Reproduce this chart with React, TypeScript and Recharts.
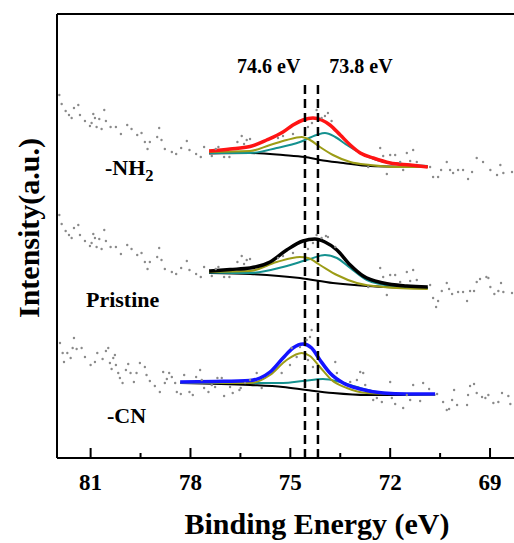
import {
  ComposedChart,
  Line,
  Scatter,
  XAxis,
  YAxis,
  ReferenceLine,
  ReferenceDot,
} from 'recharts'

type Pt = [number, number]

// binding energy (eV), intensity (a.u., stacked)
const nh2Raw: Pt[] = [
  [81.94, 363], [81.87, 354], [81.75, 347], [81.65, 343], [81.57, 340], [81.5, 350], [81.37, 353], [81.32, 343],
  [81.17, 337], [81.02, 332], [80.97, 335], [80.92, 344], [80.87, 340], [80.82, 331], [80.74, 339], [80.67, 329],
  [80.59, 348], [80.54, 337], [80.4, 331], [80.24, 331], [80.09, 324], [79.9, 333], [79.77, 329], [79.6, 323],
  [79.47, 325], [79.37, 316], [79.29, 309], [79.22, 316], [79.0, 321], [78.94, 330], [78.87, 318], [78.77, 309],
  [78.56, 306], [78.43, 304], [78.28, 310], [78.11, 317], [78.03, 308], [77.83, 304], [77.69, 301], [77.59, 311],
  [77.36, 302], [77.24, 309], [77.16, 311], [76.99, 301], [76.83, 301], [76.59, 316], [76.46, 322], [76.39, 314],
  [76.31, 318], [76.21, 319], [75.37, 320], [75.22, 322], [74.92, 324], [74.47, 331], [74.35, 335], [74.21, 348],
  [74.06, 340], [73.96, 342], [73.87, 345], [73.76, 337], [72.66, 291], [72.3, 310], [72.21, 302], [72.1, 284],
  [72.0, 303], [71.85, 303], [71.7, 296], [71.61, 288], [71.5, 305], [71.4, 297], [71.31, 308], [71.2, 296],
  [70.8, 291], [70.71, 281], [70.56, 281], [70.47, 288], [70.3, 296], [70.2, 288], [70.11, 285], [69.96, 288],
  [69.81, 288], [69.66, 279], [69.54, 286], [69.4, 300], [69.21, 296], [68.99, 288], [68.79, 283], [68.69, 293],
  [68.6, 285], [68.34, 286],
]

const pristineRaw: Pt[] = [
  [81.94, 243], [81.87, 234], [81.75, 227], [81.65, 223], [81.57, 220], [81.5, 230], [81.37, 233], [81.32, 223],
  [81.17, 217], [81.02, 212], [80.97, 215], [80.92, 224], [80.87, 220], [80.82, 211], [80.74, 219], [80.67, 209],
  [80.59, 228], [80.54, 217], [80.4, 211], [80.24, 211], [80.09, 204], [79.9, 213], [79.77, 209], [79.6, 203],
  [79.47, 205], [79.37, 196], [79.29, 189], [79.22, 196], [79.0, 201], [78.94, 210], [78.87, 198], [78.77, 189],
  [78.56, 186], [78.43, 184], [78.28, 190], [78.11, 197], [78.03, 188], [77.83, 184], [77.69, 181], [77.59, 191],
  [77.36, 182], [77.24, 189], [77.16, 191], [76.99, 181], [76.83, 181], [76.59, 196], [76.46, 202], [76.39, 194],
  [76.31, 198], [76.21, 199], [75.37, 200], [75.22, 202], [74.92, 205], [74.47, 209], [74.32, 215], [74.21, 223],
  [74.06, 220], [73.93, 222], [73.87, 221], [73.65, 211], [72.66, 171], [72.3, 190], [72.21, 181], [72.1, 163],
  [72.0, 183], [71.85, 183], [71.7, 176], [71.5, 186], [71.4, 177], [71.31, 188], [71.2, 178], [70.8, 173],
  [70.71, 160], [70.62, 151], [70.56, 157], [70.45, 167], [70.3, 175], [70.23, 169], [70.14, 164], [69.96, 166],
  [69.81, 166], [69.69, 157], [69.6, 167], [69.48, 167], [69.4, 176], [69.3, 179], [69.11, 181], [69.05, 180],
  [68.99, 171], [68.87, 164], [68.75, 167], [68.67, 175], [68.6, 166], [68.34, 165],
]

const cnRaw: Pt[] = [
  [81.92, 115], [81.84, 105], [81.8, 96], [81.7, 105], [81.6, 100], [81.54, 110], [81.5, 120], [81.42, 109],
  [81.27, 110], [81.17, 101], [81.0, 93], [80.87, 96], [80.8, 105], [80.64, 99], [80.54, 107], [80.47, 110],
  [80.42, 95], [80.37, 89], [80.32, 100], [80.27, 103], [80.24, 93], [80.17, 85], [80.12, 80], [80.04, 75],
  [79.94, 88], [79.87, 94], [79.8, 85], [79.7, 76], [79.62, 85], [79.52, 95], [79.37, 91], [79.32, 83],
  [79.22, 77], [79.07, 72], [78.92, 66], [78.82, 86], [78.77, 75], [78.71, 79], [78.64, 85], [78.56, 81],
  [78.46, 75], [78.41, 66], [78.29, 64], [78.19, 83], [78.03, 66], [77.93, 63], [77.83, 81], [77.71, 88],
  [77.66, 78], [77.59, 70], [77.46, 66], [77.36, 73], [77.26, 71], [77.19, 80], [77.06, 80], [76.99, 62],
  [76.81, 71], [76.73, 65], [76.53, 68], [76.49, 70], [76.36, 75], [76.21, 78], [76.01, 85], [75.86, 70],
  [75.26, 85], [75.01, 93], [74.96, 110], [74.81, 101], [74.71, 111], [74.51, 118], [74.41, 121], [74.36, 128],
  [74.47, 98], [74.32, 91], [73.65, 96], [73.6, 85], [73.2, 76], [73.0, 78], [72.9, 86], [72.81, 85],
  [72.75, 73], [72.51, 58], [72.4, 60], [72.25, 56], [72.0, 76], [71.95, 60], [71.85, 54], [71.61, 50],
  [71.5, 63], [71.4, 58], [71.31, 73], [71.1, 57], [71.01, 75], [70.83, 69], [70.59, 64], [70.41, 56],
  [70.3, 48], [70.23, 49], [70.14, 58], [70.08, 68], [69.99, 53], [69.69, 53], [69.66, 63], [69.6, 72],
  [69.48, 74], [69.4, 65], [69.24, 61], [69.14, 60], [69.05, 63], [68.9, 55], [68.75, 56], [68.64, 65],
  [68.45, 62], [68.39, 54],
]

// fitted curves: envelope, 74.6 eV component, 73.8 eV component, background
const nh2Envelope: Pt[] = [
  [77.44, 307], [76.81, 309], [76.21, 311.5], [75.71, 318], [75.22, 326], [74.92, 333], [74.62, 338], [74.32, 340],
  [74.06, 338], [73.81, 333], [73.5, 323], [73.2, 313], [72.9, 305], [72.51, 300], [72.0, 295], [71.4, 293], [70.87, 291],
]
const nh2Peak1: Pt[] = [
  [77.44, 306], [76.21, 307], [75.61, 313], [75.11, 318], [74.66, 321], [74.41, 318], [74.11, 311], [73.72, 303],
  [73.2, 296], [72.6, 293], [71.8, 291], [70.87, 291],
]
const nh2Peak2: Pt[] = [
  [77.44, 305], [76.21, 305], [75.41, 310], [74.71, 316], [74.21, 323], [73.96, 325], [73.65, 321], [73.3, 313],
  [72.9, 305], [72.4, 298], [71.7, 294], [70.87, 292],
]
const nh2Base: Pt[] = [
  [77.44, 304.5], [76.21, 305], [75.22, 303], [74.56, 301], [74.11, 298], [73.41, 295], [72.6, 292], [70.87, 291],
]

const pristineEnvelope: Pt[] = [
  [77.44, 187], [76.81, 188.5], [76.21, 190], [75.61, 196], [75.11, 208], [74.62, 217], [74.26, 219], [73.96, 216],
  [73.6, 208], [73.2, 193], [72.81, 182], [72.21, 175], [71.5, 172], [70.87, 171],
]
const pristinePeak1: Pt[] = [
  [77.44, 186], [76.21, 187], [75.41, 196], [74.71, 201], [74.47, 200], [74.11, 193], [73.6, 183], [73.0, 175],
  [72.21, 171], [70.87, 169],
]
const pristinePeak2: Pt[] = [
  [77.44, 185.5], [76.21, 185], [75.22, 191], [74.41, 199], [73.96, 203], [73.6, 200], [73.2, 190], [72.7, 178],
  [71.91, 172], [70.87, 170],
]
const pristineBase: Pt[] = [
  [77.44, 185], [76.21, 184], [74.71, 180], [73.72, 175], [72.7, 172], [70.87, 170],
]

const cnEnvelope: Pt[] = [
  [78.31, 76], [77.26, 76.5], [76.21, 77.5], [75.91, 80], [75.61, 86], [75.22, 100], [74.92, 110], [74.62, 114],
  [74.36, 110], [74.11, 98], [73.81, 85], [73.41, 75], [72.9, 69], [72.21, 65], [71.5, 64], [70.65, 64],
]
const cnPeak1: Pt[] = [
  [78.31, 75.5], [76.21, 75], [75.61, 83], [75.11, 98], [74.66, 105], [74.41, 102], [74.11, 91], [73.76, 78],
  [73.3, 70], [72.7, 65], [71.7, 64], [70.65, 63],
]
const cnPeak2: Pt[] = [
  [78.31, 75], [76.21, 75], [75.22, 75], [74.62, 77], [74.02, 79], [73.5, 76], [73.0, 71], [72.4, 66], [71.7, 64], [70.65, 63],
]
const cnBase: Pt[] = [
  [78.31, 75], [76.21, 73], [75.22, 71], [74.51, 68], [73.72, 65], [72.7, 63], [70.65, 63],
]

const energyTicks = [81, 79.5, 78, 76.5, 75, 73.5, 72, 70.5, 69]
const peakLines = [74.56, 74.17]

const FONT = '"Liberation Serif", "Times New Roman", serif'
const OLIVE = '#9c9c16'
const TEAL = '#14918f'
const DOT = '#8a8a8a'

const rows = (pts: Pt[]) => pts.map(([x, y]) => ({ x, y }))

const samples = [
  { key: 'nh2', raw: nh2Raw, env: nh2Envelope, p1: nh2Peak1, p2: nh2Peak2, base: nh2Base, color: '#ff1414' },
  { key: 'pristine', raw: pristineRaw, env: pristineEnvelope, p1: pristinePeak1, p2: pristinePeak2, base: pristineBase, color: '#000000' },
  { key: 'cn', raw: cnRaw, env: cnEnvelope, p1: cnPeak1, p2: cnPeak2, base: cnBase, color: '#1414ff' },
]

const EnergyTick = (props: any) => {
  const { x, y, payload } = props
  const major = Number.isInteger(payload.value)
  return (
    <g>
      <line x1={x} x2={x} y1={y} y2={y - (major ? 10 : 5)} stroke="#000" strokeWidth={2} />
      {major && (
        <text x={x} y={y + 32} textAnchor="middle" fontFamily={FONT} fontWeight="bold" fontSize={23} fill="#000">
          {payload.value}
        </text>
      )}
    </g>
  )
}

const XTitle = () => (
  <text x={317} y={534} textAnchor="middle" fontFamily={FONT} fontWeight="bold" fontSize={30} fill="#000">
    Binding Energy (eV)
  </text>
)

const YTitle = () => (
  <text
    x={28}
    y={228}
    transform="rotate(-90, 28, 228)"
    textAnchor="middle"
    dominantBaseline="central"
    fontFamily={FONT}
    fontWeight="bold"
    fontSize={30}
    fill="#000"
  >
    Intensity(a.u.)
  </text>
)

const tagShape = (text: string, size: number, sub?: string) => (p: any) => (
  <text x={p.cx} y={p.cy} fontFamily={FONT} fontWeight="bold" fontSize={size} fill="#000">
    {text}
    {sub && (
      <tspan fontSize={size * 0.75} dy={6}>
        {sub}
      </tspan>
    )}
  </text>
)

const dotShape = (p: any) => <circle cx={p.cx} cy={p.cy} r={1.2} fill={DOT} />

export default function App() {
  return (
    <div style={{ position: 'absolute', left: 0, top: 0, background: '#fff' }}>
      <ComposedChart width={514} height={543} margin={{ top: 13, right: 0, bottom: 0, left: 56 }}>
        <XAxis
          type="number"
          dataKey="x"
          domain={[68.28, 82.01]}
          reversed
          allowDataOverflow
          ticks={energyTicks}
          interval={0}
          height={85}
          tickSize={0}
          tickMargin={0}
          tickLine={false}
          tick={<EnergyTick />}
          axisLine={{ stroke: '#000', strokeWidth: 2 }}
          label={<XTitle />}
        />
        <XAxis
          xAxisId="top"
          orientation="top"
          type="number"
          dataKey="x"
          domain={[68.28, 82.01]}
          reversed
          allowDataOverflow
          height={1}
          tick={false}
          tickLine={false}
          axisLine={{ stroke: '#000', strokeWidth: 2 }}
        />
        <YAxis
          type="number"
          dataKey="y"
          domain={[0, 444]}
          allowDataOverflow
          width={1}
          tick={false}
          tickLine={false}
          axisLine={{ stroke: '#000', strokeWidth: 2 }}
          label={<YTitle />}
        />

        {samples.map((s) => (
          <Scatter
            key={`${s.key}-raw`}
            data={rows(s.raw)}
            shape={dotShape}
            isAnimationActive={false}
          />
        ))}

        {samples.map((s) => [
          <Line key={`${s.key}-base`} data={rows(s.base)} dataKey="y" type="monotone" stroke="#000" strokeWidth={2} dot={false} isAnimationActive={false} />,
          <Line key={`${s.key}-p2`} data={rows(s.p2)} dataKey="y" type="monotone" stroke={TEAL} strokeWidth={2} dot={false} isAnimationActive={false} />,
          <Line key={`${s.key}-p1`} data={rows(s.p1)} dataKey="y" type="monotone" stroke={OLIVE} strokeWidth={2} dot={false} isAnimationActive={false} />,
          <Line key={`${s.key}-env`} data={rows(s.env)} dataKey="y" type="monotone" stroke={s.color} strokeWidth={3.5} dot={false} isAnimationActive={false} />,
        ])}

        {peakLines.map((e) => (
          <ReferenceLine
            key={e}
            segment={[{ x: e, y: 0 }, { x: e, y: 377 }]}
            stroke="#000"
            strokeWidth={2.5}
            strokeDasharray="9 5"
          />
        ))}

        <ReferenceDot x={76.6} y={385} shape={tagShape('74.6 eV', 20)} />
        <ReferenceDot x={73.83} y={385} shape={tagShape('73.8 eV', 20)} />
        <ReferenceDot x={80.57} y={283} shape={tagShape('-NH', 22, '2')} />
        <ReferenceDot x={81.14} y={151} shape={tagShape('Pristine', 22)} />
        <ReferenceDot x={80.51} y={35} shape={tagShape('-CN', 22)} />
      </ComposedChart>
    </div>
  )
}
